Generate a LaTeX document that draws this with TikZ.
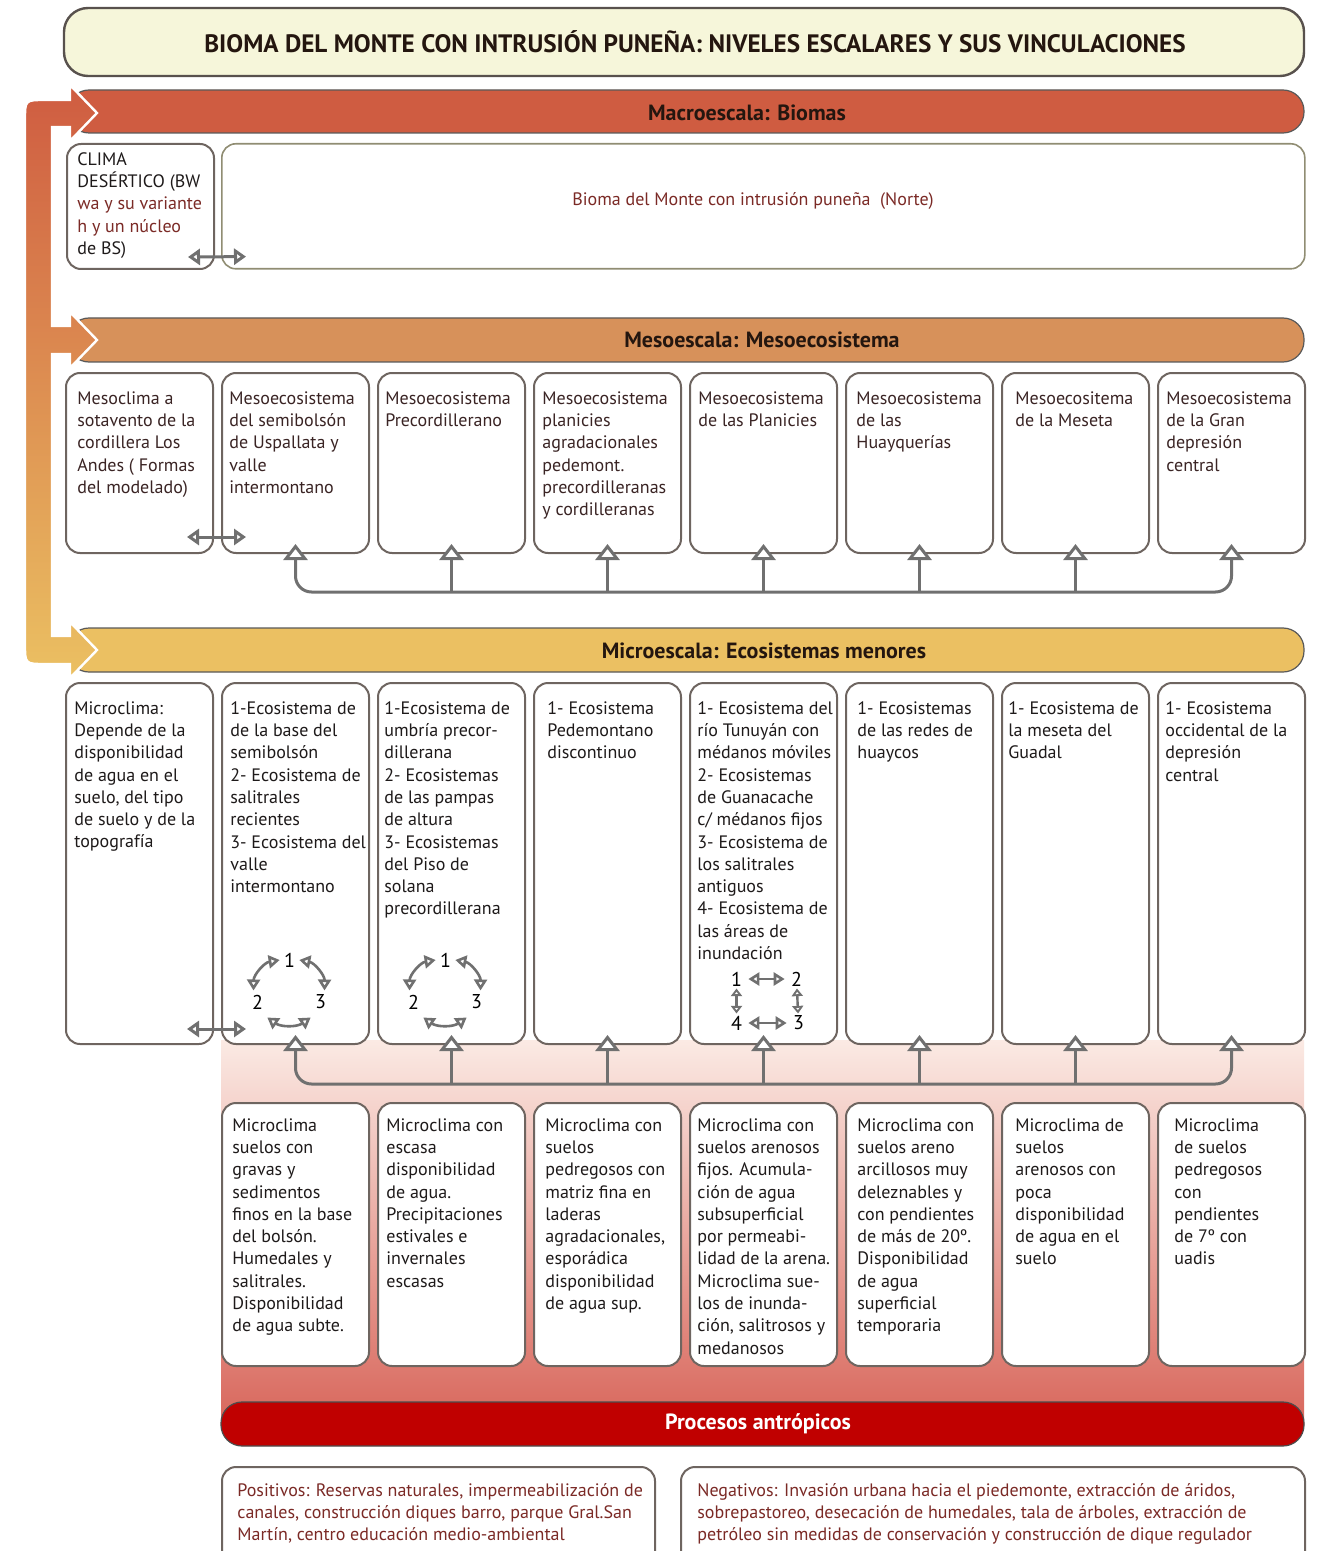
\documentclass[tikz,border=0pt]{standalone}
\usepackage{fontspec}
\setmainfont{PT Sans}
\usetikzlibrary{arrows.meta,calc,positioning}

\definecolor{macroC}{HTML}{CF5C41}
\definecolor{mesoC}{HTML}{D7915A}
\definecolor{microC}{HTML}{EBC062}
\definecolor{antroC}{HTML}{C00000}
\definecolor{titleC}{HTML}{F6F6DA}
\definecolor{edgeC}{HTML}{6E6560}
\definecolor{lineC}{HTML}{707070}
\definecolor{wineC}{HTML}{7B2A26}
\definecolor{txtC}{HTML}{1E1A1A}
\definecolor{mesoTxt}{HTML}{3A2424}
\definecolor{barTxt}{HTML}{24160F}
\definecolor{pinkTop}{HTML}{FBEAE4}
\definecolor{pinkBot}{HTML}{D8665B}

\tikzset{
  bigtri/.tip={Triangle[width=12pt,length=8pt,fill=white]},
  midtri/.tip={Triangle[width=8pt,length=6pt,fill=white]},
  smalltri/.tip={Triangle[width=6.5pt,length=5.5pt,fill=white]},
  tinytri/.tip={Triangle[width=5.5pt,length=3.8pt,fill=white]},
  box/.style={draw=edgeC, line width=1pt, rounded corners=7pt, fill=white,
    inner sep=0pt, anchor=north west, minimum width=73.5pt},
  mesobox/.style={box, minimum height=90pt},
  microbox/.style={box, minimum height=180.5pt},
  botbox/.style={box, minimum height=131.5pt},
  boxtext/.style={anchor=north west, align=left, inner sep=0pt,
    font=\fontsize{9}{11.15}\selectfont, text=txtC},
  barlabel/.style={font=\fontsize{11}{13}\selectfont\bfseries, text=barTxt, inner sep=0pt},
  tree/.style={draw=lineC, line width=1.5pt, rounded corners=8pt, shorten >=-5pt},
  dbl/.style={draw=lineC, line width=1.5pt, midtri-midtri},
  cyc/.style={draw=lineC, line width=1.3pt, smalltri-smalltri},
  sqarrow/.style={draw=lineC, line width=1.2pt, tinytri-tinytri},
  num/.style={font=\fontsize{10}{12}\selectfont, text=black, inner sep=2pt}
}

\begin{document}
\begin{tikzpicture}[x=0.5pt, y=-0.5pt]

    \useasboundingbox (0,0) rectangle (1318,1551);
    \clip (0,0) rectangle (1318,1551);

    % Title
    \node[draw=edgeC!80!black, line width=1.2pt, fill=titleC, rounded corners=12pt,
          minimum width=620pt, minimum height=34pt] (title) at (684,42) {};
    \node[font=\fontsize{12.6}{15}\selectfont\bfseries, text=barTxt] (titletext) at (695,42)
        {BIOMA DEL MONTE CON INTRUSIÓN PUNEÑA: NIVELES ESCALARES Y SUS VINCULACIONES};

    %%%% Scale bars
    \fill[macroC, draw=gray!70!black, line width=0.6pt, rounded corners=10.5pt] (68,90) rectangle (1304,133);
    \fill[mesoC, draw=gray!70!black, line width=0.6pt, rounded corners=10.5pt] (68,318) rectangle (1304,362);
    \fill[microC, draw=gray!70!black, line width=0.6pt, rounded corners=10.5pt] (68,628) rectangle (1304,672);

    % Linking band on the left
    \shade[draw=white, line width=1.2pt, top color=macroC, middle color=mesoC!95!orange, bottom color=microC]
        (70,100) -- (45,100) .. controls (25,100) .. (25,120) -- (25,644)
        .. controls (25,664) .. (45,664) -- (70,664) -- (70,678) -- (97,650) -- (70,622)
        -- (70,636) -- (52,636) -- (52,354) -- (70,354) -- (70,368) -- (97,340)
        -- (70,312) -- (70,326) -- (52,326) -- (52,127) -- (70,127) -- (70,141)
        -- (97,113) -- (70,85) -- cycle;

    \node[barlabel] (macrolabel) at (747,113) {Macroescala: Biomas};
    \node[barlabel] (mesolabel) at (762,340) {Mesoescala: Mesoecosistema};
    \node[barlabel] (microlabel) at (764,651) {Microescala: Ecosistemas menores};

    %%%% Macroscale
    \node[box, minimum height=62.5pt] (clima) at (66,143) {};
    \node[box, draw=gray!80!olive, line width=0.8pt, minimum width=541.5pt, minimum height=62.5pt] (bioma) at (221,143) {};
    \node[boxtext] (climatext) at ([shift={(11,9)}]clima.north west)
        {CLIMA\\DESÉRTICO (BW\\\textcolor{wineC}{wa y su variante}\\\textcolor{wineC}{h y un núcleo}\\de BS)};
    \node[boxtext, anchor=center, text=wineC] (biomatext) at (753,201)
        {Bioma del Monte con intrusión puneña~~(Norte)};
    \draw[dbl] ([shift={(-27,-13)}]clima.south east) -- ([shift={(25,-13)}]bioma.south west);

    %%%% Mesoscale
    \foreach \i/\dx/\txt in {
        1/12/{Mesoclima a\\sotavento de la\\cordillera Los\\Andes ( Formas\\del modelado)},
        2/8/{Mesoecosistema\\del semibolsón\\de Uspallata y\\valle\\intermontano},
        3/8/{Mesoecosistema\\Precordillerano},
        4/9/{Mesoecosistema\\planicies\\agradacionales\\pedemont.\\precordilleranas\\y cordilleranas},
        5/9/{Mesoecosistema\\de las Planicies},
        6/11/{Mesoecosistema\\de las\\Huayquerías},
        7/14/{Mesoecositema\\de la Meseta},
        8/9/{Mesoecosistema\\de la Gran\\depresión\\central}} {
        \node[mesobox] (meso\i) at ({65+156*(\i-1)},372) {};
        \node[boxtext, text=mesoTxt] (mesotext\i) at ([shift={(\dx,19)}]meso\i.north west) {\txt};
    }
    \draw[dbl] ([shift={(-27,-17)}]meso1.south east) -- ([shift={(25,-17)}]meso2.south west);

    % Meso tree
    \coordinate (mesoline) at ($(meso2.south)+(0,38)$);
    \draw[tree, shorten <=-5pt, bigtri-bigtri] (meso2.south) -- (mesoline) -| (meso8.south);
    \foreach \i in {3,...,7}
        \draw[tree, -bigtri] (meso\i.south |- mesoline) -- (meso\i.south);

    %%%% Anthropic background
    \shade[top color=pinkTop, bottom color=pinkBot] (221,1040) rectangle (1304,1424);

    %%%% Microscale
    \foreach \i/\dx/\txt in {
        1/9/{Microclima:\\Depende de la\\disponibilidad\\de agua en el\\suelo, del tipo\\de suelo y de la\\topografía},
        2/9/{1-Ecosistema de\\de la base del\\semibolsón\\2- Ecosistema de\\salitrales\\recientes\\3- Ecosistema del\\valle\\intermontano},
        3/7/{1-Ecosistema de\\umbría precor-\\dillerana\\2- Ecosistemas\\de las pampas\\de altura\\3- Ecosistemas\\del Piso de\\solana\\precordillerana},
        4/14/{1- Ecosistema\\Pedemontano\\discontinuo},
        5/8/{1- Ecosistema del\\río Tunuyán con\\médanos móviles\\2- Ecosistemas\\de Guanacache\\c/ médanos fijos\\3- Ecosistema de\\los salitrales\\antiguos\\4- Ecosistema de\\las áreas de\\inundación},
        6/12/{1- Ecosistemas\\de las redes de\\huaycos},
        7/7/{1- Ecosistema de\\la meseta del\\Guadal},
        8/8/{1- Ecosistema\\occidental de la\\depresión\\central}} {
        \node[microbox] (micro\i) at ({65+156*(\i-1)},682) {};
        \node[boxtext] (microtext\i) at ([shift={(\dx,19)}]micro\i.north west) {\txt};
    }
    \draw[dbl] ([shift={(-27,-16)}]micro1.south east) -- ([shift={(25,-16)}]micro2.south west);

    % Cycles 1-2-3
    \foreach \c in {micro2, micro3} {
        \node[num] (\c-1) at ([shift={(-6,-85)}]\c.south) {1};
        \node[num] (\c-2) at ([shift={(-38,-43)}]\c.south) {2};
        \node[num] (\c-3) at ([shift={(25,-43)}]\c.south) {3};
        \draw[cyc] (\c-1.west) to[bend right=40] ([xshift=-2pt]\c-2.north);
        \draw[cyc] (\c-1.east) to[bend left=40] ([xshift=2pt]\c-3.north);
        \draw[cyc] ([yshift=-2pt]\c-2.south east) to[bend right=35] ([yshift=-2pt]\c-3.south west);
    }

    % Square 1-2-3-4
    \node[num, inner sep=1pt] (sq1) at ([shift={(-27,-66)}]micro5.south) {1};
    \node[num, inner sep=1pt] (sq2) at ([shift={(33,-66)}]micro5.south) {2};
    \node[num, inner sep=1pt] (sq4) at ([shift={(-27,-22)}]micro5.south) {4};
    \node[num, inner sep=1pt] (sq3) at ([shift={(35,-22)}]micro5.south) {3};
    \draw[cyc] ([xshift=2pt]sq1.east) -- ([xshift=-2pt]sq2.west);
    \draw[cyc] ([xshift=2pt]sq4.east) -- ([xshift=-2pt]sq3.west);
    \draw[sqarrow] (sq1) -- (sq4);
    \draw[sqarrow] (sq2) -- (sq3);

    % Micro tree
    \coordinate (microline) at ($(micro2.south)+(0,39)$);
    \draw[tree, shorten <=-5pt, bigtri-bigtri] (micro2.south) -- (microline) -| (micro8.south);
    \foreach \i in {3,...,7}
        \draw[tree, -bigtri] (micro\i.south |- microline) -- (micro\i.south);

    %%%% Microclimates
    \foreach \i/\dx/\txt in {
        2/11/{Microclima\\suelos con\\gravas y\\sedimentos\\finos en la base\\del bolsón.\\Humedales y\\salitrales.\\Disponibilidad\\de agua subte.},
        3/9/{Microclima con\\escasa\\disponibilidad\\de agua.\\Precipitaciones\\estivales e\\invernales\\escasas},
        4/12/{Microclima con\\suelos\\pedregosos con\\matriz fina en\\laderas\\agradacionales,\\esporádica\\disponibilidad\\de agua sup.},
        5/8/{Microclima con\\suelos arenosos\\fijos. Acumula-\\ción de agua\\subsuperficial\\por permeabi-\\lidad de la arena.\\Microclima sue-\\los de inunda-\\ción, salitrosos y\\medanosos},
        6/12/{Microclima con\\suelos areno\\arcillosos muy\\deleznables y\\con pendientes\\de más de 20º.\\Disponibilidad\\de agua\\superficial\\temporaria},
        7/14/{Microclima de\\suelos\\arenosos con\\poca\\disponibilidad\\de agua en el\\suelo},
        8/17/{Microclima\\de suelos\\pedregosos\\con\\pendientes\\de 7º con\\uadis}} {
        \node[botbox] (bot\i) at ({65+156*(\i-1)},1102) {};
        \node[boxtext] (bottext\i) at ([shift={(\dx,16)}]bot\i.north west) {\txt};
    }

    %%%% Anthropic processes
    \fill[antroC, draw=gray!60!black, line width=0.6pt, rounded corners=10.5pt] (221,1402) rectangle (1304,1446);
    \node[barlabel, text=white] (antrolabel) at (758,1424) {Procesos antrópicos};

    \node[box, minimum width=216.5pt, minimum height=60pt] (positivos) at (221,1466) {};
    \node[box, minimum width=312pt, minimum height=60pt] (negativos) at (680,1466) {};
    \node[boxtext, text=wineC] (postext) at ([shift={(16,17)}]positivos.north west)
        {Positivos: Reservas naturales, impermeabilización de\\canales, construcción diques barro, parque Gral.San\\Martín, centro educación medio-ambiental};
    \node[boxtext, text=wineC] (negtext) at ([shift={(17,17)}]negativos.north west)
        {Negativos: Invasión urbana hacia el piedemonte, extracción de áridos,\\sobrepastoreo, desecación de humedales, tala de árboles, extracción de\\petróleo sin medidas de conservación y construcción de dique regulador};

\end{tikzpicture}
\end{document}
